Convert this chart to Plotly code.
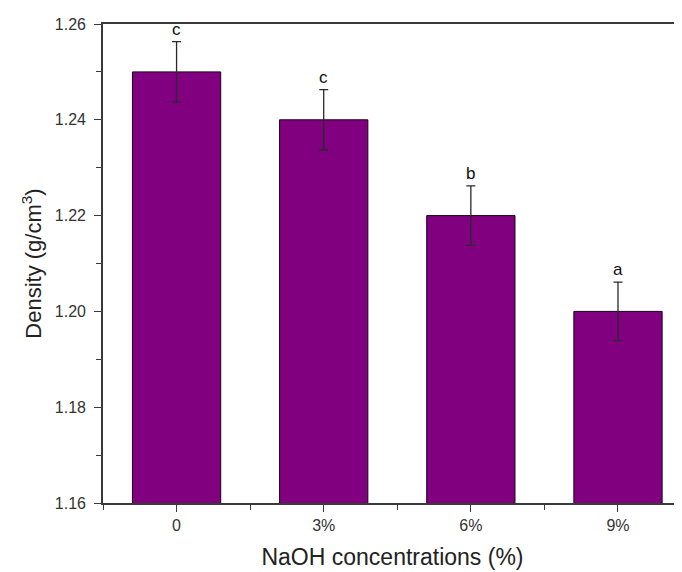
import plotly.graph_objects as go

categories = ["0", "3%", "6%", "9%"]
density = [1.250, 1.240, 1.220, 1.200]
errors = [0.0063, 0.0063, 0.0062, 0.0061]
letters = ["c", "c", "b", "a"]
y_ticks = [1.16, 1.18, 1.20, 1.22, 1.24, 1.26]

xpos = list(range(len(categories)))
FONT = "Liberation Sans, Arial, sans-serif"
AX = "#3a3a3a"

fig = go.Figure()
fig.add_trace(go.Bar(
    x=xpos, y=density, width=0.6,
    marker=dict(color="#800080", line=dict(color="#1a001a", width=1)),
    error_y=dict(type="data", array=errors, visible=True,
                 color="#2a2a2a", thickness=1.3, width=4.5),
    showlegend=False,
))

for xi, v, e, t in zip(xpos, density, errors, letters):
    fig.add_annotation(x=xi, y=v + e, text=t, showarrow=False,
                       yanchor="bottom", yshift=1,
                       font=dict(family=FONT, size=17, color="#111"))

fig.update_layout(
    width=674, height=564,
    margin=dict(l=95, r=0, t=16, b=69),
    paper_bgcolor="white", plot_bgcolor="white",
    font=dict(family=FONT, color="#222"),
    bargap=0.4,
)
fig.update_xaxes(
    range=[-0.5, 3.435],
    tickmode="array", tickvals=xpos, ticktext=categories,
    ticks="outside", ticklen=7, tickcolor=AX, tickwidth=1.3,
    minor=dict(ticks="outside", ticklen=5, tickcolor=AX, tick0=0.5, dtick=1),
    showline=True, linecolor=AX, linewidth=1.6, mirror=True,
    showgrid=False, zeroline=False,
    tickfont=dict(size=16, color="#333"),
    title=dict(text="NaOH concentrations (%)", font=dict(size=23, color="#222"), standoff=16),
)
fig.update_yaxes(
    range=[1.16, 1.26],
    tickmode="array", tickvals=y_ticks,
    ticktext=[f"{v:.2f}" for v in y_ticks],
    ticks="outside", ticklen=7, tickcolor=AX, tickwidth=1.3,
    ticklabelstandoff=5,
    minor=dict(ticks="outside", ticklen=5, tickcolor=AX, dtick=0.01, tick0=1.17),
    showline=True, linecolor=AX, linewidth=1.6, mirror=False,
    showgrid=False, zeroline=False,
    tickfont=dict(size=16, color="#333"),
    title=dict(text="Density (g/cm<sup>3</sup>)", font=dict(size=22, color="#222"), standoff=7),
)

fig.write_html("out.html")
